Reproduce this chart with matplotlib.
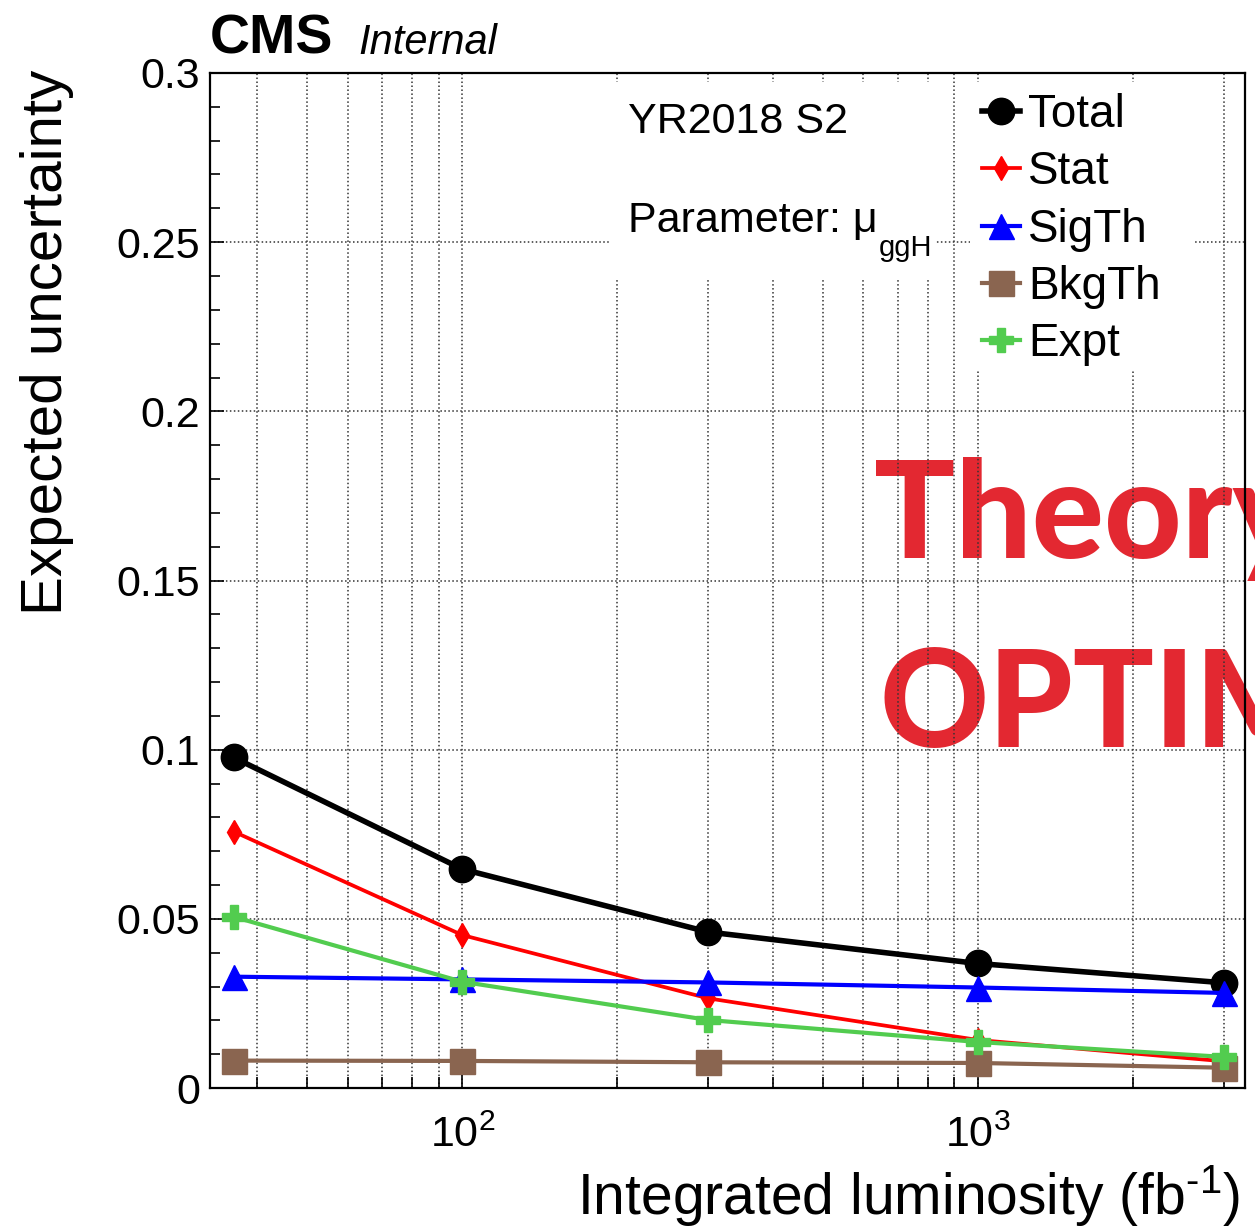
#!/usr/bin/env python3
# -*- coding: utf-8 -*-
"""Incertitude attendue sur mu_ggH en fonction de la luminosité (YR2018 S2)."""
import numpy as np
import matplotlib
matplotlib.use("Agg")
import matplotlib.pyplot as plt
from matplotlib.patches import Rectangle
from matplotlib.ticker import MultipleLocator, NullFormatter, FuncFormatter

# ──────────────────────────────────────────────────────────────
# Données
# ──────────────────────────────────────────────────────────────
lumi  = [36, 100, 300, 1000, 3000]
total = [0.0977, 0.0647, 0.0461, 0.0368, 0.0311]
stat  = [0.0758, 0.0452, 0.0265, 0.0142, 0.0079]
sigth = [0.0329, 0.0321, 0.0312, 0.0297, 0.0281]
bkgth = [0.0081, 0.0080, 0.0076, 0.0074, 0.0060]
expt  = [0.0506, 0.0314, 0.0201, 0.0136, 0.0092]

labels  = ["Total", "Stat", "SigTh", "BkgTh", "Expt"]
colours = ["black", "#ff0000", "#0000ff", "#8a6550", "#52cc4f"]
y_ticks = [0, 0.05, 0.1, 0.15, 0.2, 0.25, 0.3]

plt.rcParams["font.family"] = ["Liberation Sans", "DejaVu Sans"]
plt.rcParams["mathtext.fontset"] = "custom"
plt.rcParams["mathtext.rm"] = "Liberation Sans"
plt.rcParams["mathtext.it"] = "Liberation Sans:italic"

W, H = 1255, 1229
fig = plt.figure(figsize=(W / 100, H / 100), dpi=100)
L, R, T, B = 210, 1245, 73, 1088
ax = fig.add_axes([L / W, 1 - B / H, (R - L) / W, (B - T) / H])
ax.patch.set_alpha(0)

def px(x, y):
    """pixels (image) -> coordonnées figure"""
    return x / W, 1 - y / H

# ──────────────────────────────────────────────────────────────
# Courbes
# ──────────────────────────────────────────────────────────────
styles = [
    dict(marker="o", ms=19, lw=4.0),
    dict(marker="d", ms=12, lw=2.7),
    dict(marker="^", ms=18, lw=3.0),
    dict(marker="s", ms=18, lw=3.0),
    dict(marker="P", ms=17, lw=3.0),
]
series = [total, stat, sigth, bkgth, expt]
handles = []
for vals, lab, col, st in zip(series, labels, colours, styles):
    h, = ax.plot(lumi, vals, color=col, marker=st["marker"], ms=st["ms"],
                 lw=st["lw"], mec=col, mfc=col, label=lab, zorder=3)
    handles.append(h)

# ──────────────────────────────────────────────────────────────
# Axes
# ──────────────────────────────────────────────────────────────
ax.set_xscale("log")
ax.set_xlim(32.4, 3300)
ax.set_ylim(0, 0.3)
ax.set_yticks(y_ticks)
ax.yaxis.set_major_formatter(FuncFormatter(lambda v, p: f"{v:g}"))
ax.yaxis.set_minor_locator(MultipleLocator(0.01))
ax.xaxis.set_minor_formatter(NullFormatter())

ax.tick_params(which="both", direction="in", top=False, right=False,
               width=1.2, labelsize=31)
ax.tick_params(axis="y", which="major", length=10, pad=7)
ax.tick_params(axis="y", which="minor", length=7)
ax.tick_params(axis="x", which="major", length=11, pad=20)
ax.tick_params(axis="x", which="minor", length=8)
for sp in ax.spines.values():
    sp.set_linewidth(1.6)

ax.set_axisbelow(True)
grid_kw = dict(ls=(0, (1, 1.6)), color="#333333", lw=1.1)
ax.grid(True, which="both", axis="x", **grid_kw)
ax.grid(True, which="major", axis="y", **grid_kw)

ax.set_xlabel(r"Integrated luminosity (fb$^{\text{-1}}$)", fontsize=41,
              ha="right", va="baseline")
ax.xaxis.set_label_coords((1240 - L) / (R - L), (B - 1214) / (B - T))
ax.set_ylabel("Expected uncertainty", fontsize=42, ha="right",
              va="baseline", rotation_mode="anchor")
ax.yaxis.set_label_coords((62 - L) / (R - L), (B - 70) / (B - T))

# ──────────────────────────────────────────────────────────────
# Cadres blancs (texte + légende), masquent la grille
# ──────────────────────────────────────────────────────────────
def ax_box(x0, y0, x1, y1):
    return Rectangle(((x0 - L) / (R - L), (B - y1) / (B - T)),
                     (x1 - x0) / (R - L), (y1 - y0) / (B - T),
                     transform=ax.transAxes, facecolor="white",
                     edgecolor="none", zorder=1)

ax.add_patch(ax_box(610, 82, 935, 280))
ax.add_patch(ax_box(970, 82, 1195, 370))

leg = ax.legend(handles=handles, loc="upper left", frameon=False,
                bbox_to_anchor=((982 - L) / (R - L), (B - 93) / (B - T)),
                fontsize=33, handlelength=0.83, handletextpad=0.18,
                labelspacing=0.29, borderpad=0, borderaxespad=0)
leg.set_zorder(4)

# ──────────────────────────────────────────────────────────────
# Textes
# ──────────────────────────────────────────────────────────────
fig.text(*px(628, 133), "YR2018 S2", fontsize=31, va="baseline")
fig.text(*px(628, 232), "Parameter: μ", fontsize=31, va="baseline")
fig.text(*px(879, 256), "ggH", fontsize=21, va="baseline")

fig.text(*px(210, 54), "CMS", fontsize=40, fontweight="bold", va="baseline")
fig.text(*px(358, 54), "Internal", fontsize=30, style="italic", va="baseline")

# filigrane rouge, coupé au bord droit comme sur l'original
wm = dict(fontsize=97, fontweight="black", color="#e32831",
          family=["Lato", "DejaVu Sans"], va="baseline", zorder=-1)
fig.text(*px(874, 558), "Theory", **wm)
fig.text(*px(880, 747), "OPTIMISTIC", **wm)

fig.savefig("out.png", dpi=100)
